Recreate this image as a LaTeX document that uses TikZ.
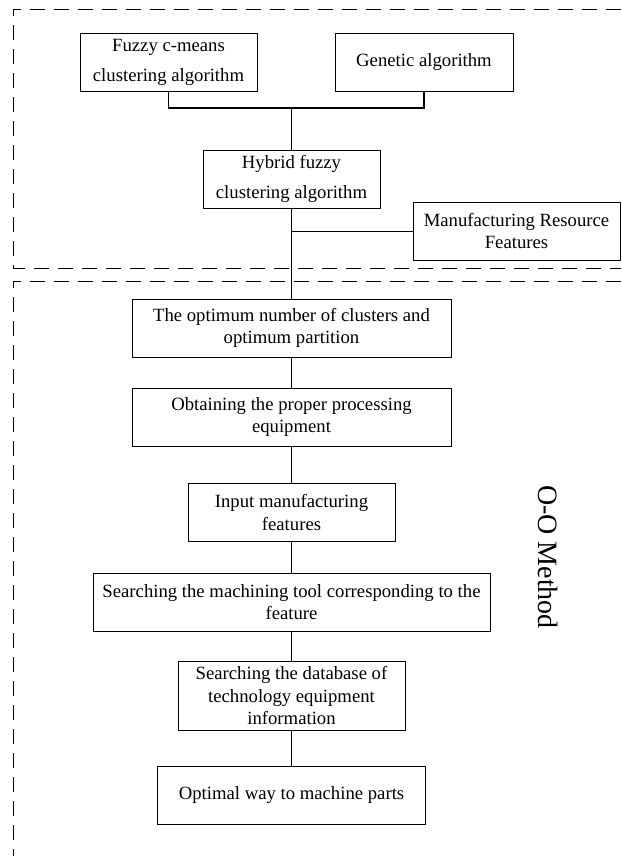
\documentclass[tikz,border=0pt]{standalone}
\usepackage{fontspec}
\setmainfont{Liberation Serif}
\begin{document}
\begin{tikzpicture}[
    x=1pt, y=-1pt,
    proc/.style={draw, line width=1pt, minimum height=58pt, align=center,
                 inner sep=2pt, font=\fontsize{18.7}{22.5}\selectfont},
    wideproc/.style={proc, font=\fontsize{18.7}{30}\selectfont},
    conn/.style={line width=1pt},
    treeconn/.style={line width=1.4pt},
    region/.style={dash pattern=on 15pt off 9pt, line width=0.9pt}
]
\useasboundingbox (0,0) rectangle (621,856);

\node[wideproc, minimum width=177pt] (fcm) at (168.5,62.5) {Fuzzy c-means\\clustering algorithm};
\node[proc, minimum width=178pt]     (ga)  at (424,62.5)   {Genetic algorithm};
\node[wideproc, minimum width=177pt] (hfc) at (291.5,179)  {Hybrid fuzzy\\clustering algorithm};
\node[proc, minimum width=207pt]     (mrf) at (516.5,231)  {Manufacturing Resource\\Features};

\node[proc, minimum width=319pt] (opt)  at (291.5,328)   {The optimum number of clusters and\\optimum partition};
\node[proc, minimum width=319pt] (obt)  at (291.5,417)   {Obtaining the proper processing\\equipment};
\node[proc, minimum width=207pt] (inp)  at (291.5,512.5) {Input manufacturing\\features};
\node[proc, minimum width=397pt] (srch) at (291.5,602)   {Searching the machining tool corresponding to the\\feature};
\node[proc, minimum width=227pt, minimum height=69pt] (db) at (291.5,695.5) {Searching the database of\\technology equipment\\information};
\node[proc, minimum width=268pt] (way)  at (291.5,795)   {Optimal way to machine parts};

\node[rotate=-90, font=\fontsize{28}{32}\selectfont] (oo) at (548,557) {O-O Method};

% dashed regions
\draw[region] (621,9) -- (13,9) -- (13,268) -- (621,268);
\draw[region] (621,281) -- (13,281) -- (13,856);

% upper part
\coordinate (jn) at (291.5,108);
\draw[treeconn] (fcm.south) |- (jn) -| (ga.south);
\draw[treeconn] (jn) -- (hfc.north);
\draw[treeconn] (hfc.south) -- (opt.north);
\draw[conn] (mrf.west) -- (mrf.west -| hfc.south);

% lower chain
\draw[conn] (opt) -- (obt);
\draw[conn] (obt) -- (inp);
\draw[conn] (inp) -- (srch);
\draw[conn] (srch) -- (db);
\draw[conn] (db) -- (way);

\end{tikzpicture}
\end{document}
